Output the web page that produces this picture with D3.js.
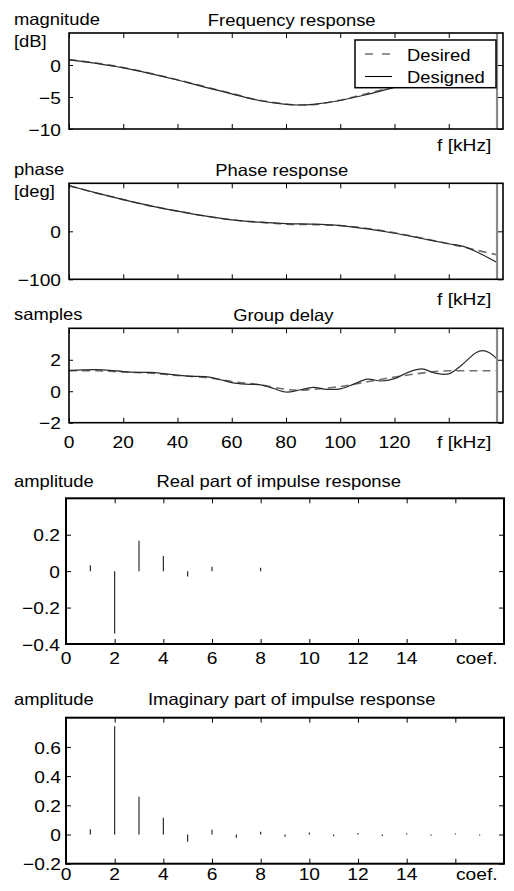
<!DOCTYPE html>
<html><head><meta charset="utf-8">
<script src="https://cdn.jsdelivr.net/npm/d3@7"></script>
<style>
body{margin:0;background:#fff}
svg{display:block}
text{font-family:"Liberation Sans",Arial,Helvetica,sans-serif;fill:#000}
</style>
</head><body><svg id="c" width="514" height="891"></svg>
<script>
// ---------------- data ----------------
const magFreq     = [0,10,20,30,40,50,60,70,80,85,90,100,110,120,130,140,150,157.8];
const magDesired  = [0.85,0.3,-0.4,-1.3,-2.3,-3.4,-4.45,-5.5,-6.1,-6.25,-6.2,-5.5,-4.45,-3.4,-2.5,-1.8,-1.3,-1.0];
const magDesigned = [0.8,0.25,-0.45,-1.35,-2.35,-3.45,-4.5,-5.55,-6.15,-6.25,-6.15,-5.55,-4.6,-3.5,-2.6,-1.9,-1.4,-1.1];

const phaseFreq     = [0,10,20,30,40,50,60,70,80,90,100,110,120,130,140,145,150,157.8];
const phaseDesired  = [95,80,66,53,42,32,24,19,15,14,12,6,-3,-14,-26,-32,-39,-49];
const phaseDesigned = [95,80,66,53,42,32,24,19,16,15,12,5,-4,-15,-26,-31,-42,-65];

const gdFreq     = [0,5,10,15,20,25,30,35,40,45,50,55,60,65,70,75,80,85,90,95,100,105,110,115,120,125,130,135,140,145,150,152.5,155,157.8];
const gdDesigned = [1.33,1.36,1.37,1.33,1.25,1.2,1.2,1.12,1.02,0.95,0.93,0.78,0.55,0.45,0.42,0.2,-0.05,0.08,0.24,0.12,0.15,0.45,0.77,0.65,0.8,1.2,1.42,1.15,1.1,1.7,2.45,2.58,2.45,2.05];
const gdDesiredFreq = [0,10,20,30,40,50,60,70,80,85,90,100,110,120,130,137,145,157.8];
const gdDesired     = [1.3,1.3,1.22,1.15,1.0,0.88,0.62,0.42,0.12,0.06,0.12,0.3,0.6,0.9,1.15,1.28,1.3,1.3];

const coefIndex = [1,2,3,4,5,6,7,8,9,10,11,12,13,14,15,16,17];
const realPart  = [0.033,-0.343,0.167,0.083,-0.03,0.024,0,0.018,0,0,0,0,0,0,0,0,0];
const imagPart  = [0.036,0.742,0.258,0.114,-0.05,0.032,-0.023,0.018,-0.016,0.013,-0.012,0.01,-0.01,0.008,-0.008,0.007,-0.006];

const freqTicks = [0,20,40,60,80,100,120,140];
const freqTickLabels = ["0","20","40","60","80","100","120"];
const coefTicks = [0,2,4,6,8,10,12,14,16];
const coefTickLabels = ["0","2","4","6","8","10","12","14"];
const magTicks = [-10,-5,0];
const phaseTicks = [-100,0];
const gdTicks = [-2,0,2];
const realTicks = [-0.4,-0.2,0,0.2];
const imagTicks = [-0.2,0,0.2,0.4,0.6];
const nyquistF = 157.8;

// ---------------- drawing ----------------
const SX = 1.13;
const FT = 17, FL = 16.3;
const svg = d3.select("#c");

function txt(x, y, s, size, anchor) {
  svg.append("text")
    .attr("transform", `translate(${x},${y}) scale(${SX},1)`)
    .attr("font-size", size)
    .attr("text-anchor", anchor || "start")
    .text(s);
}
function styleAxis(g) {
  g.select(".domain").remove();
  g.selectAll(".tick line").attr("stroke", "#000").attr("stroke-width", 1);
}
function frame(x0, x1, y0, y1, w) {
  svg.append("rect").attr("x", x0).attr("y", y0).attr("width", x1 - x0).attr("height", y1 - y0)
    .attr("fill", "none").attr("stroke", "#000").attr("stroke-width", w);
}

const fmt = d => (d < 0 ? "\u2212" + String(Math.abs(d)) : String(d));

function freqPanel(cfg) {
  const x = d3.scaleLinear().domain([0, 160]).range([69, 503]);
  const y = d3.scaleLinear().domain(cfg.ydom).range([cfg.bot, cfg.top]);
  const gb = svg.append("g").attr("transform", `translate(0,${cfg.bot})`)
    .call(d3.axisBottom(x).tickValues(freqTicks).tickSize(-5).tickFormat(""));
  styleAxis(gb); gb.selectAll("text").remove();
  const gt = svg.append("g").attr("transform", `translate(0,${cfg.top})`)
    .call(d3.axisTop(x).tickValues(freqTicks).tickSize(-5).tickFormat(""));
  styleAxis(gt); gt.selectAll("text").remove();
  const gl = svg.append("g").attr("transform", `translate(69,0)`)
    .call(d3.axisLeft(y).tickValues(cfg.yticks).tickSize(-4).tickPadding(8).tickFormat(fmt));
  styleAxis(gl);
  gl.selectAll("text").attr("font-size", FT).attr("dy", "0.36em")
    .attr("transform", `scale(${SX},1)`).attr("x", -8 / SX);
  const gr = svg.append("g").attr("transform", `translate(503,0)`)
    .call(d3.axisRight(y).tickValues(cfg.yticks).tickSize(-5).tickFormat(""));
  styleAxis(gr); gr.selectAll("text").remove();

  const line = d3.line().x(d => x(d[0])).y(d => y(d[1])).curve(d3.curveCatmullRom.alpha(0.5));
  svg.append("path").datum(d3.zip(cfg.fd, cfg.desired)).attr("d", line)
    .attr("fill", "none").attr("stroke", "#707070").attr("stroke-width", 1.6).attr("stroke-dasharray", "8,5");
  svg.append("path").datum(d3.zip(cfg.fs, cfg.designed)).attr("d", line)
    .attr("fill", "none").attr("stroke", "#2a2a2a").attr("stroke-width", 1.2);

  svg.append("line").attr("x1", x(nyquistF)).attr("x2", x(nyquistF)).attr("y1", cfg.top).attr("y2", cfg.bot)
    .attr("stroke", "#8a8a8a").attr("stroke-width", 2.2);
  frame(69, 503, cfg.top, cfg.bot, 1.6);

  txt(14, cfg.top - 8.5, cfg.ylab1, FL);
  if (cfg.ylab2) txt(14, cfg.top + 14, cfg.ylab2, FL);
  txt(cfg.titleX, cfg.top - 7, cfg.title, FL, "middle");
  txt(437, cfg.fLabelY, "f [kHz]", FT);
  if (cfg.xlabels) {
    freqTickLabels.forEach((s, i) => txt(x(freqTicks[i]), cfg.bot + 25.3, s, FT, "middle"));
  }
}

freqPanel({top: 33, bot: 129, ydom: [-10, 5], yticks: magTicks, fd: magFreq, desired: magDesired,
  fs: magFreq, designed: magDesigned, ylab1: "magnitude", ylab2: "[dB]", title: "Frequency response",
  titleX: 291.7, fLabelY: 151});
// legend
svg.append("rect").attr("x", 355).attr("y", 40).attr("width", 141).attr("height", 47.7)
  .attr("fill", "#fff").attr("stroke", "#000").attr("stroke-width", 1.5);
svg.append("line").attr("x1", 365).attr("x2", 391).attr("y1", 54).attr("y2", 54)
  .attr("stroke", "#707070").attr("stroke-width", 1.4).attr("stroke-dasharray", "8,9");
svg.append("line").attr("x1", 365).attr("x2", 392).attr("y1", 76.5).attr("y2", 76.5)
  .attr("stroke", "#000").attr("stroke-width", 1.1);
txt(407, 61, "Desired", FL);
txt(407, 83, "Designed", FL);

freqPanel({top: 183.3, bot: 279.3, ydom: [-100, 100], yticks: phaseTicks, fd: phaseFreq, desired: phaseDesired,
  fs: phaseFreq, designed: phaseDesigned, ylab1: "phase", ylab2: "[deg]", title: "Phase response",
  titleX: 281.7, fLabelY: 305});

freqPanel({top: 328.3, bot: 422.7, ydom: [-2, 4], yticks: gdTicks, fd: gdDesiredFreq, desired: gdDesired,
  fs: gdFreq, designed: gdDesigned, ylab1: "samples", title: "Group delay",
  titleX: 283.3, fLabelY: 448, xlabels: true});

function stemPanel(cfg) {
  const x = d3.scaleLinear().domain([0, 18]).range([66, 504]);
  const y = d3.scaleLinear().domain(cfg.ydom).range([cfg.bot, cfg.top]);
  const gb = svg.append("g").attr("transform", `translate(0,${cfg.bot})`)
    .call(d3.axisBottom(x).tickValues(coefTicks).tickSize(-5).tickFormat(""));
  styleAxis(gb); gb.selectAll("text").remove();
  const gt = svg.append("g").attr("transform", `translate(0,${cfg.top})`)
    .call(d3.axisTop(x).tickValues(coefTicks).tickSize(-5).tickFormat(""));
  styleAxis(gt); gt.selectAll("text").remove();
  const gl = svg.append("g").attr("transform", `translate(66,0)`)
    .call(d3.axisLeft(y).tickValues(cfg.yticks).tickSize(-5).tickFormat(fmt));
  styleAxis(gl);
  gl.selectAll("text").attr("font-size", FT).attr("dy", "0.36em")
    .attr("transform", `scale(${SX},1)`).attr("x", -cfg.pad / SX);
  const gr = svg.append("g").attr("transform", `translate(504,0)`)
    .call(d3.axisRight(y).tickValues(cfg.yticks).tickSize(-5).tickFormat(""));
  styleAxis(gr); gr.selectAll("text").remove();

  svg.append("g").selectAll("line").data(d3.zip(coefIndex, cfg.vals)).join("line")
    .attr("x1", d => x(d[0])).attr("x2", d => x(d[0]))
    .attr("y1", y(0)).attr("y2", d => y(d[1]))
    .attr("stroke", "#1a1a1a").attr("stroke-width", 1.1);

  frame(66, 504, cfg.top, cfg.bot, 2);
  txt(14, cfg.labY, "amplitude", FL);
  txt(cfg.titleX, cfg.labY, cfg.title, FL, "middle");
  coefTickLabels.forEach((s, i) => txt(x(coefTicks[i]), cfg.xlabY, s, FT, "middle"));
  txt(456, cfg.xlabY, "coef.", FT);
}

stemPanel({top: 498.3, bot: 644, ydom: [-0.4, 0.4], yticks: realTicks, vals: realPart, pad: 6,
  labY: 487, title: "Real part of impulse response", titleX: 278.8, xlabY: 664});
stemPanel({top: 717.7, bot: 863.7, ydom: [-0.2, 0.8], yticks: imagTicks, vals: imagPart, pad: 5,
  labY: 705, title: "Imaginary part of impulse response", titleX: 291.7, xlabY: 880});
</script>
</body></html>
